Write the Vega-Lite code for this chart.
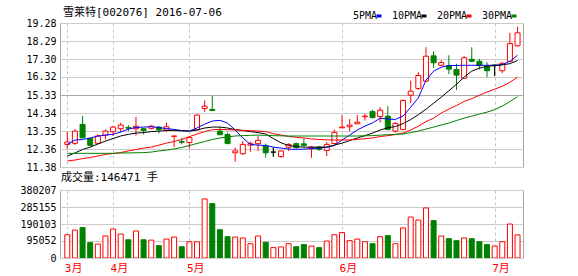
{
  "$schema": "https://vega.github.io/schema/vega-lite/v6.json",
  "background": "white",
  "padding": {"left": 19, "top": 6, "right": 4, "bottom": 2},
  "bounds": "flush",
  "spacing": 23,
  "config": {
    "view": {"stroke": "#a8a8a8", "strokeWidth": 1},
    "title": {"anchor": "start", "frame": "group", "fontSize": 11, "fontWeight": "normal", "font": "DejaVu Sans Mono, Noto Sans CJK SC", "color": "#000000", "baseline": "alphabetic"},
    "axis": {"labelFont": "DejaVu Sans Mono", "labelFontSize": 10, "labelColor": "#000000", "ticks": false, "domain": false, "title": null, "labelOverlap": false, "labelFlush": false, "tickCount": 20}
  },
  "datasets": {
    "k": [
      {"i":0,"o":12.62,"h":13.30,"l":12.38,"c":12.75,"v":130000,"m5":12.62,"m10":11.98,"m20":11.71,"m30":12.13},
      {"i":1,"o":12.68,"h":13.44,"l":12.58,"c":13.35,"v":156000,"m5":12.86,"m10":12.15,"m20":11.76,"m30":12.13},
      {"i":2,"o":13.72,"h":14.17,"l":12.95,"c":12.98,"v":170000,"m5":12.89,"m10":12.34,"m20":11.84,"m30":12.13},
      {"i":3,"o":12.95,"h":12.98,"l":12.51,"c":12.57,"v":86000,"m5":12.97,"m10":12.47,"m20":11.90,"m30":12.13},
      {"i":4,"o":12.68,"h":13.17,"l":12.62,"c":13.08,"v":78000,"m5":13.08,"m10":12.64,"m20":11.98,"m30":12.13},
      {"i":5,"o":13.13,"h":13.44,"l":12.89,"c":13.35,"v":123000,"m5":13.13,"m10":12.80,"m20":12.07,"m30":12.13},
      {"i":6,"o":13.31,"h":13.62,"l":13.08,"c":13.57,"v":162000,"m5":13.17,"m10":12.94,"m20":12.12,"m30":12.13},
      {"i":7,"o":13.48,"h":13.81,"l":13.30,"c":13.68,"v":134000,"m5":13.30,"m10":13.08,"m20":12.17,"m30":12.15},
      {"i":8,"o":13.55,"h":13.68,"l":13.35,"c":13.51,"v":102000,"m5":13.46,"m10":13.17,"m20":12.26,"m30":12.15},
      {"i":9,"o":13.48,"h":14.13,"l":13.11,"c":13.61,"v":151000,"m5":13.55,"m10":13.24,"m20":12.34,"m30":12.16},
      {"i":10,"o":13.48,"h":13.50,"l":13.17,"c":13.39,"v":102000,"m5":13.57,"m10":13.27,"m20":12.42,"m30":12.17},
      {"i":11,"o":13.50,"h":13.68,"l":13.44,"c":13.62,"v":100000,"m5":13.59,"m10":13.32,"m20":12.47,"m30":12.20},
      {"i":12,"o":13.57,"h":13.62,"l":13.22,"c":13.44,"v":69000,"m5":13.54,"m10":13.35,"m20":12.58,"m30":12.26},
      {"i":13,"o":13.41,"h":13.81,"l":13.31,"c":13.59,"v":106000,"m5":13.49,"m10":13.38,"m20":12.69,"m30":12.31},
      {"i":14,"o":13.06,"h":13.09,"l":12.47,"c":13.08,"v":117000,"m5":13.44,"m10":13.39,"m20":12.78,"m30":12.37},
      {"i":15,"o":12.77,"h":12.98,"l":12.62,"c":12.74,"v":63000,"m5":13.38,"m10":13.36,"m20":12.89,"m30":12.45},
      {"i":16,"o":12.72,"h":13.08,"l":12.39,"c":12.99,"v":91000,"m5":13.35,"m10":13.35,"m20":13.05,"m30":12.56},
      {"i":17,"o":13.42,"h":14.26,"l":13.39,"c":14.23,"v":91000,"m5":13.52,"m10":13.41,"m20":13.19,"m30":12.67},
      {"i":18,"o":14.59,"h":15.03,"l":14.41,"c":14.72,"v":330000,"m5":13.73,"m10":13.52,"m20":13.32,"m30":12.78},
      {"i":19,"o":14.54,"h":15.27,"l":14.48,"c":14.48,"v":304000,"m5":13.90,"m10":13.57,"m20":13.43,"m30":12.89},
      {"i":20,"o":13.35,"h":13.57,"l":13.15,"c":13.15,"v":158000,"m5":13.94,"m10":13.57,"m20":13.44,"m30":12.97},
      {"i":21,"o":13.17,"h":13.26,"l":12.66,"c":12.66,"v":119000,"m5":13.79,"m10":13.52,"m20":13.43,"m30":13.03},
      {"i":22,"o":12.16,"h":12.44,"l":11.67,"c":12.26,"v":117000,"m5":13.41,"m10":13.43,"m20":13.41,"m30":13.08},
      {"i":23,"o":12.11,"h":12.80,"l":12.04,"c":12.62,"v":112000,"m5":12.97,"m10":13.38,"m20":13.39,"m30":13.10},
      {"i":24,"o":12.58,"h":12.77,"l":12.22,"c":12.66,"v":80000,"m5":12.62,"m10":13.32,"m20":13.37,"m30":13.12},
      {"i":25,"o":12.66,"h":13.08,"l":12.26,"c":12.84,"v":123000,"m5":12.58,"m10":13.27,"m20":13.35,"m30":13.13},
      {"i":26,"o":12.53,"h":12.66,"l":11.89,"c":12.16,"v":88000,"m5":12.56,"m10":13.19,"m20":13.32,"m30":13.12},
      {"i":27,"o":12.20,"h":12.45,"l":11.95,"c":12.20,"v":58000,"m5":12.47,"m10":12.94,"m20":13.21,"m30":13.10},
      {"i":28,"o":11.95,"h":12.28,"l":11.89,"c":12.26,"v":62000,"m5":12.42,"m10":12.71,"m20":13.13,"m30":13.09},
      {"i":29,"o":12.46,"h":12.68,"l":12.26,"c":12.62,"v":80000,"m5":12.36,"m10":12.56,"m20":13.06,"m30":13.08},
      {"i":30,"o":12.66,"h":12.71,"l":12.38,"c":12.44,"v":63000,"m5":12.35,"m10":12.50,"m20":13.01,"m30":13.08},
      {"i":31,"o":12.65,"h":12.94,"l":12.47,"c":12.57,"v":75000,"m5":12.36,"m10":12.47,"m20":12.97,"m30":13.08},
      {"i":32,"o":12.38,"h":12.53,"l":11.89,"c":12.47,"v":67000,"m5":12.39,"m10":12.47,"m20":12.92,"m30":13.08},
      {"i":33,"o":12.47,"h":12.53,"l":12.26,"c":12.35,"v":58000,"m5":12.42,"m10":12.47,"m20":12.89,"m30":13.08},
      {"i":34,"o":12.29,"h":12.75,"l":11.98,"c":12.62,"v":95000,"m5":12.47,"m10":12.47,"m20":12.87,"m30":13.08},
      {"i":35,"o":12.67,"h":13.44,"l":12.62,"c":13.28,"v":130000,"m5":12.56,"m10":12.58,"m20":12.86,"m30":13.08},
      {"i":36,"o":13.53,"h":14.21,"l":13.53,"c":13.57,"v":142000,"m5":12.86,"m10":12.69,"m20":12.86,"m30":13.08},
      {"i":37,"o":13.59,"h":14.01,"l":13.35,"c":13.68,"v":97000,"m5":13.13,"m10":12.83,"m20":12.87,"m30":13.08},
      {"i":38,"o":13.75,"h":14.23,"l":13.75,"c":13.84,"v":106000,"m5":13.41,"m10":12.97,"m20":12.89,"m30":13.08},
      {"i":39,"o":14.14,"h":14.30,"l":13.93,"c":14.17,"v":91000,"m5":13.62,"m10":13.10,"m20":12.93,"m30":13.09},
      {"i":40,"o":14.42,"h":14.53,"l":14.04,"c":14.09,"v":80000,"m5":13.80,"m10":13.24,"m20":12.97,"m30":13.10},
      {"i":41,"o":14.14,"h":14.66,"l":13.82,"c":14.50,"v":119000,"m5":14.06,"m10":13.41,"m20":13.05,"m30":13.13},
      {"i":42,"o":14.17,"h":14.72,"l":13.39,"c":13.44,"v":125000,"m5":14.01,"m10":13.53,"m20":13.10,"m30":13.15},
      {"i":43,"o":13.35,"h":13.84,"l":13.26,"c":13.77,"v":80000,"m5":13.99,"m10":13.60,"m20":13.16,"m30":13.17},
      {"i":44,"o":13.44,"h":15.08,"l":13.39,"c":15.03,"v":168000,"m5":14.17,"m10":13.76,"m20":13.24,"m30":13.19},
      {"i":45,"o":15.32,"h":16.12,"l":14.88,"c":15.54,"v":229000,"m5":14.66,"m10":13.98,"m20":13.41,"m30":13.27},
      {"i":46,"o":15.69,"h":16.58,"l":15.60,"c":16.40,"v":212000,"m5":15.17,"m10":14.25,"m20":13.62,"m30":13.35},
      {"i":47,"o":16.09,"h":17.95,"l":16.03,"c":17.46,"v":280000,"m5":16.14,"m10":14.55,"m20":13.87,"m30":13.46},
      {"i":48,"o":17.48,"h":17.73,"l":16.82,"c":17.10,"v":209000,"m5":16.64,"m10":14.88,"m20":14.06,"m30":13.57},
      {"i":49,"o":16.96,"h":17.24,"l":16.91,"c":17.11,"v":123000,"m5":16.85,"m10":15.21,"m20":14.34,"m30":13.68},
      {"i":50,"o":16.94,"h":17.51,"l":16.47,"c":16.75,"v":108000,"m5":16.95,"m10":15.56,"m20":14.56,"m30":13.79},
      {"i":51,"o":16.73,"h":17.05,"l":15.60,"c":16.42,"v":97000,"m5":16.95,"m10":15.92,"m20":14.75,"m30":13.93},
      {"i":52,"o":16.25,"h":17.48,"l":16.22,"c":17.37,"v":112000,"m5":16.96,"m10":16.31,"m20":14.98,"m30":14.06},
      {"i":53,"o":17.29,"h":17.95,"l":17.13,"c":17.18,"v":108000,"m5":16.96,"m10":16.64,"m20":15.13,"m30":14.17},
      {"i":54,"o":17.18,"h":17.32,"l":16.74,"c":16.94,"v":91000,"m5":16.96,"m10":16.80,"m20":15.32,"m30":14.28},
      {"i":55,"o":16.88,"h":17.13,"l":16.31,"c":16.66,"v":75000,"m5":16.96,"m10":16.91,"m20":15.49,"m30":14.39},
      {"i":56,"o":16.96,"h":17.00,"l":16.36,"c":16.96,"v":67000,"m5":16.96,"m10":16.94,"m20":15.65,"m30":14.53},
      {"i":57,"o":16.66,"h":17.14,"l":16.53,"c":17.07,"v":91000,"m5":17.00,"m10":16.98,"m20":15.81,"m30":14.72},
      {"i":58,"o":17.18,"h":18.74,"l":17.14,"c":18.15,"v":190000,"m5":17.18,"m10":17.05,"m20":16.03,"m30":14.97},
      {"i":59,"o":18.03,"h":19.07,"l":18.00,"c":18.74,"v":129000,"m5":17.51,"m10":17.22,"m20":16.31,"m30":15.24}
    ]
  },
  "vconcat": [
    {
      "width": 463,
      "height": 144,
      "title": {"text": "雪莱特[002076] 2016-07-06", "offset": 0, "dx": 3},
      "data": {"name": "k"},
      "layer": [
        {
          "mark": {"type": "rule", "strokeWidth": 1, "clip": true},
          "encoding": {
            "x": {"field": "i", "type": "quantitative", "scale": {"domain": [-0.3, 59.06], "nice": false, "zero": false},
                  "axis": {"values": [0, 6, 16, 36, 56], "labels": false, "grid": true, "gridDash": [3, 3], "gridColor": "#c4c4c4", "title": null, "tickCount": 20}},
            "y": {"field": "l", "type": "quantitative", "scale": {"domain": [11.38, 19.28], "nice": false, "zero": false},
                  "axis": {"values": [11.38, 12.36, 13.35, 14.34, 15.33, 16.32, 17.30, 18.29, 19.28], "tickCount": 20, "format": ".2f", "labelOverlap": false, "labelFlush": false, "grid": true, "gridColor": {"condition": {"test": "abs(datum.value - 15.33) < 0.001", "value": "#a8a8a8"}, "value": "#cccccc"}, "labelPadding": 4, "title": null}},
            "y2": {"field": "h"},
            "color": {"condition": {"test": "datum.c > datum.o", "value": "#ff0000"}, "value": "#008000"}
          }
        },
        {
          "transform": [{"filter": "datum.c == datum.o"}],
          "mark": {"type": "rule", "strokeWidth": 1, "clip": true, "color": "#000000"},
          "encoding": {
            "x": {"field": "i", "type": "quantitative"},
            "y": {"field": "l", "type": "quantitative"},
            "y2": {"field": "h"}
          }
        },
        {
          "mark": {"type": "bar", "width": 5, "strokeWidth": 1, "clip": true},
          "encoding": {
            "x": {"field": "i", "type": "quantitative"},
            "y": {"field": "o", "type": "quantitative"},
            "y2": {"field": "c"},
            "fill": {"condition": [{"test": "datum.c > datum.o", "value": "#ffffff"}, {"test": "datum.c == datum.o", "value": "#000000"}], "value": "#008000"},
            "stroke": {"condition": [{"test": "datum.c > datum.o", "value": "#ff0000"}, {"test": "datum.c == datum.o", "value": "#000000"}], "value": "#008000"}
          }
        },
        {
          "transform": [{"fold": ["m5", "m10", "m20", "m30"], "as": ["ma", "val"]}],
          "mark": {"type": "line", "strokeWidth": 1, "clip": true},
          "encoding": {
            "x": {"field": "i", "type": "quantitative"},
            "y": {"field": "val", "type": "quantitative"},
            "color": {"field": "ma", "type": "nominal",
                      "scale": {"domain": ["m5", "m10", "m20", "m30"], "range": ["#0000ff", "#000000", "#ff0000", "#008000"]},
                      "legend": {"orient": "none", "legendX": 314, "legendY": -12, "direction": "horizontal", "title": null, "padding": 0,
                                 "labelExpr": "datum.label == 'm5' ? '5PMA' : datum.label == 'm10' ? '10PMA' : datum.label == 'm20' ? '20PMA' : '30PMA'",
                                 "labelAlign": "right", "labelOffset": -7, "columnPadding": 3,
                                 "symbolType": "stroke", "symbolSize": 25, "symbolStrokeWidth": 3,
                                 "labelFont": "DejaVu Sans Mono", "labelFontSize": 10, "labelColor": "#000000"}}
          }
        }
      ]
    },
    {
      "width": 463,
      "height": 68,
      "title": {"text": "成交量:146471 手", "offset": 2, "dx": 1},
      "data": {"name": "k"},
      "mark": {"type": "bar", "width": 5, "strokeWidth": 1, "clip": true},
      "encoding": {
        "x": {"field": "i", "type": "quantitative", "scale": {"domain": [-0.3, 59.06], "nice": false, "zero": false},
              "axis": {"values": [0, 6, 16, 36, 56], "tickCount": 20,
                       "labelExpr": "datum.value == 0 ? '3月' : datum.value == 6 ? '4月' : datum.value == 16 ? '5月' : datum.value == 36 ? '6月' : '7月'",
                       "labelAlign": "left", "labelBaseline": "top", "labelOffset": -3, "labelPadding": 4,
                       "labelColor": "#ff0000", "labelFont": "DejaVu Sans Mono, Noto Sans CJK SC", "labelFontSize": 11,
                       "grid": true, "gridDash": [3, 3], "gridColor": "#c4c4c4", "title": null}},
        "y": {"field": "v", "type": "quantitative", "scale": {"domain": [0, 380207], "nice": false},
              "axis": {"values": [0, 95052, 190103, 285155, 380207], "tickCount": 20, "format": "d", "grid": true, "gridColor": "#cccccc", "labelPadding": 4, "title": null}},
        "fill": {"condition": {"test": "datum.c >= datum.o", "value": "#ffffff"}, "value": "#008000"},
        "stroke": {"condition": {"test": "datum.c >= datum.o", "value": "#ff0000"}, "value": "#008000"}
      }
    }
  ]
}
